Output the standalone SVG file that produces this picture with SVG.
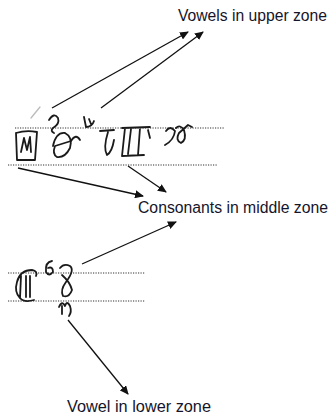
<svg xmlns="http://www.w3.org/2000/svg" width="330" height="416" viewBox="0 0 330 416">
<style>
.lbl{font-family:"Liberation Sans Narrow","Liberation Sans",Arial,sans-serif;font-size:16px;fill:#15152a}
.dot{stroke:#333;stroke-width:1.2;stroke-dasharray:1.2 1.3;fill:none}
.arr{stroke:#111;stroke-width:1.3;fill:none;marker-end:url(#ah)}
.hw{stroke:#1a1a1a;stroke-width:1.8;fill:none;stroke-linecap:round;stroke-linejoin:round}
.hwf{stroke:#bbb;stroke-width:1.3;fill:none;stroke-linecap:round}
</style>
<defs>
<marker id="ah" markerWidth="9" markerHeight="8" refX="8" refY="4" orient="auto" markerUnits="userSpaceOnUse">
<path d="M0,0 L9,4 L0,8 Z" fill="#111"/>
</marker>
</defs>
<rect width="330" height="416" fill="#fff"/>
<g id="zone-lines">
<line class="dot" x1="15" y1="128" x2="224" y2="128"/>
<line class="dot" x1="8" y1="165" x2="218" y2="165"/>
<line class="dot" x1="8" y1="273" x2="145" y2="273"/>
<line class="dot" x1="8" y1="301" x2="145" y2="301"/>
</g>
<g id="handwriting-upper">
<path class="hwf" d="M31,118 L40,107"/>
<path class="hw" d="M16,133 L17,160 L35,160 L37,132 M16,133 Q26,130 37,132"/>
<path class="hw" d="M21,152 L24,138 L27,150 L30,137 L31,152"/>
<path class="hw" d="M49,120 Q54,112 58,118 Q60,124 53,128 Q50,131 54,133"/>
<path class="hw" d="M53,146 Q56,132 65,133 Q73,137 70,148 Q65,158 57,157 Q52,154 55,146 L71,141"/>
<path class="hw" d="M71,141 Q76,133 80,140"/>
<path class="hw" d="M84,117 L86,127 Q92,127 94,121 M89,119 L91,124"/>
<path class="hw" d="M100,131 L114,130 M108,132 Q103,148 107,155 Q112,152 114,140"/>
<path class="hw" d="M122,128 L150,127 M125,128 L122,156 L144,155 M131,129 L128,154 M140,128 L138,155 M148,130 L150,138"/>
<path class="hw" d="M166,131 Q170,125 175,131 Q174,140 165,145"/>
<path class="hw" d="M176,128 Q180,124 184,130 Q187,140 181,143 Q175,140 179,133 L188,125 L192,127"/>
</g>
<g id="handwriting-lower">
<path class="hw" d="M17,282 Q20,270 32,270 Q38,271 36,276 M21,276 L20,298 Q24,303 34,300 M26,276 L26,297 M30,276 L30,297 M17,282 Q14,292 20,298"/>
<path class="hw" d="M52,261 Q45,262 46,272 Q49,277 53,272 Q53,266 48,268"/>
<path class="hw" d="M60,268 Q64,263 70,266 Q75,270 66,282 Q60,290 63,296 Q69,298 72,290 Q70,282 62,275"/>
<path class="hw" d="M59,307 Q62,300 65,306 Q67,300 70,306 Q72,312 69,316 M62,306 L62,314"/>
</g>
<g id="connectors">
<line class="arr" x1="52" y1="108" x2="188" y2="32"/>
<line class="arr" x1="101" y1="108" x2="203" y2="32"/>
<line class="arr" x1="18" y1="168" x2="143" y2="196"/>
<line class="arr" x1="128" y1="166" x2="166" y2="192"/>
<line class="arr" x1="82" y1="264" x2="176" y2="222"/>
<line class="arr" x1="68" y1="320" x2="128" y2="394"/>
</g>
<g id="label-upper"><text class="lbl" x="178" y="21" textLength="149" lengthAdjust="spacingAndGlyphs">Vowels in upper zone</text></g>
<g id="label-middle"><text class="lbl" x="138" y="213" textLength="190" lengthAdjust="spacingAndGlyphs">Consonants in middle zone</text></g>
<g id="label-lower"><text class="lbl" x="67" y="412" textLength="144" lengthAdjust="spacingAndGlyphs">Vowel in lower zone</text></g>
</svg>
